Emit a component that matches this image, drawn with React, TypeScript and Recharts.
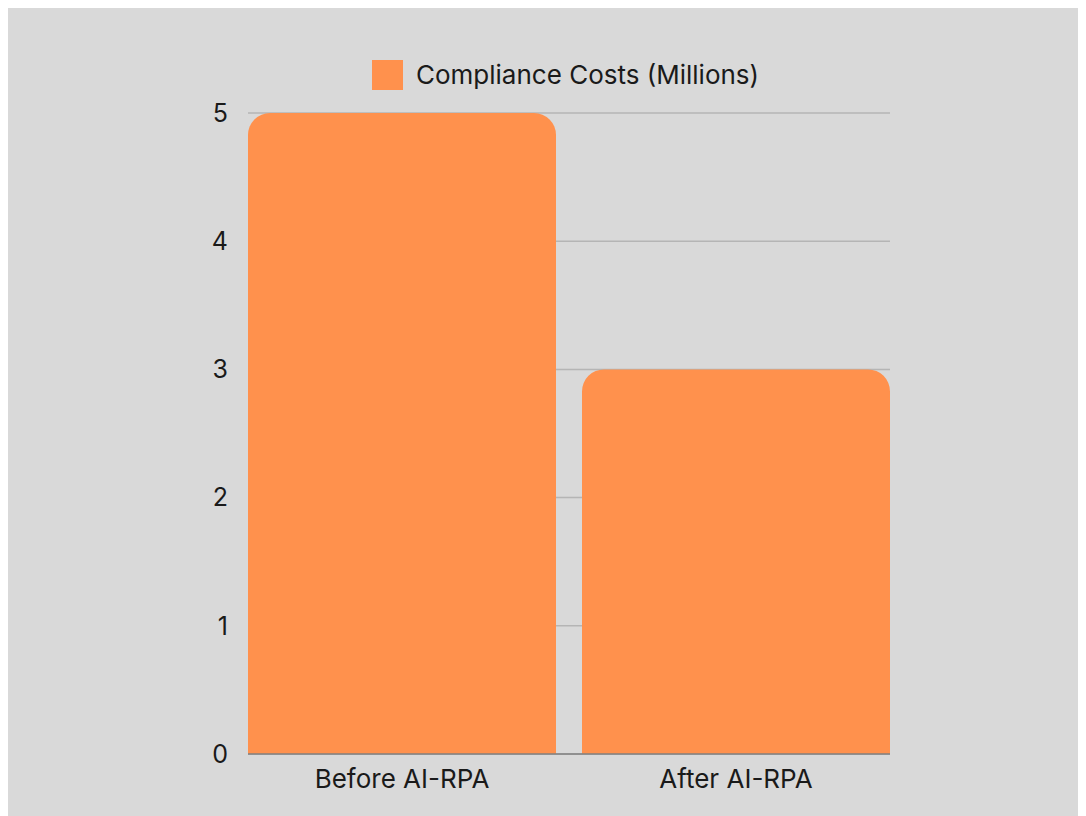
import { BarChart, Bar, XAxis, YAxis, CartesianGrid, Legend } from 'recharts';

const categories = ['Before AI-RPA', 'After AI-RPA'];
const costs = [5, 3];
const yTicks = [0, 1, 2, 3, 4, 5];
const seriesName = 'Compliance Costs (Millions)';

const data = categories.map((name, i) => ({ name, value: costs[i] }));

const FONT = 'Inter, "Noto Sans", sans-serif';
const ORANGE = '#FF914D';

const LegendContent = () => (
  <div style={{ display: 'flex', alignItems: 'center', fontFamily: FONT, fontSize: 26, color: '#1a1a1a' }}>
    <span style={{ width: 31, height: 30, background: ORANGE, display: 'inline-block', marginRight: 13 }} />
    <span>{seriesName}</span>
  </div>
);

export default function App() {
  return (
    <div style={{ width: 1078, height: 808, background: '#d9d9d9' }}>
      <BarChart
        width={1078}
        height={808}
        data={data}
        margin={{ top: 105, right: 196, bottom: 0, left: 0 }}
      >
        <CartesianGrid vertical={false} stroke="#b5b5b5" strokeWidth={1.5} />
        <XAxis
          dataKey="name"
          height={62}
          padding={{ left: -13, right: -13 }}
          tickLine={false}
          tickSize={0}
          tickMargin={16}
          axisLine={{ stroke: '#808080', strokeWidth: 1.5 }}
          tick={{ fill: '#1a1a1a', fontSize: 26, fontFamily: FONT }}
        />
        <YAxis
          width={240}
          domain={[0, 5]}
          ticks={yTicks}
          axisLine={false}
          tickLine={false}
          tickSize={0}
          tickMargin={20}
          tick={{ fill: '#1a1a1a', fontSize: 25, fontFamily: FONT }}
        />
        <Legend
          layout="horizontal"
          verticalAlign="middle"
          align="center"
          wrapperStyle={{ top: 51, left: 364, width: 'auto' }}
          content={<LegendContent />}
        />
        <Bar dataKey="value" name={seriesName} fill={ORANGE} barSize={308} radius={[22, 22, 0, 0]} isAnimationActive={false} />
      </BarChart>
    </div>
  );
}
